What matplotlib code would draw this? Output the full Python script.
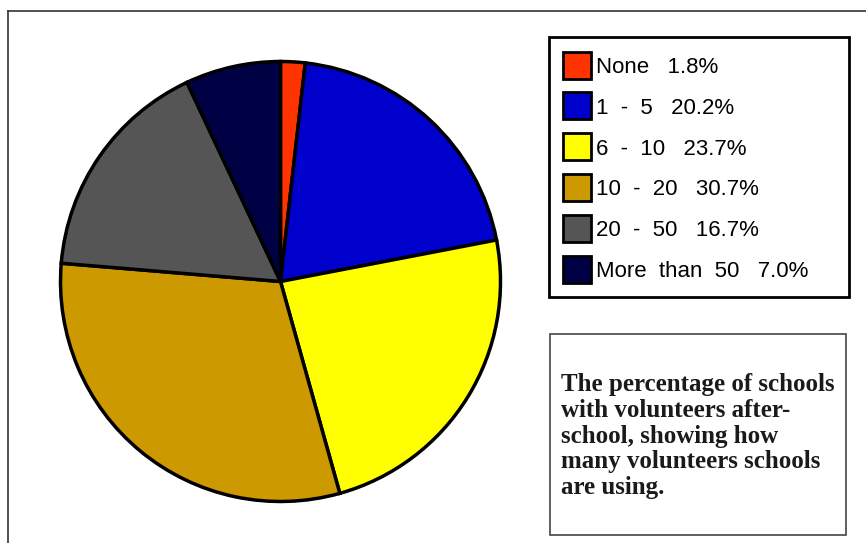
import matplotlib
matplotlib.use("Agg")
import matplotlib.pyplot as plt
from matplotlib.patches import Rectangle
from matplotlib.lines import Line2D

categories = ["None", "1  -  5", "6  -  10", "10  -  20", "20  -  50", "More  than  50"]
values = [1.8, 20.2, 23.7, 30.7, 16.7, 7.0]
colors = ["#FF3300", "#0000CC", "#FFFF00", "#CC9900", "#555555", "#000044"]
caption = ("The percentage of schools\nwith volunteers after-\nschool, showing how\n"
           "many volunteers schools\nare using.")

W, H = 866, 543
fig = plt.figure(figsize=(W / 100, H / 100), dpi=100)

def fx(px):
    return px / W

def fy(py):
    return 1 - py / H

# outer frame (left and top lines)
fig.add_artist(Line2D([fx(8), fx(8)], [fy(11), 0], color="#333333", lw=1.2))
fig.add_artist(Line2D([fx(8), 1], [fy(11), fy(11)], color="#333333", lw=1.2))

# pie
cx, cy, r = 280.5, 281.5, 220
ax = fig.add_axes([fx(cx - r), fy(cy + r), 2 * r / W, 2 * r / H])
ax.pie(values, colors=colors, startangle=90, counterclock=False,
       wedgeprops=dict(edgecolor="black", linewidth=2.5))
ax.set_xlim(-1, 1)
ax.set_ylim(-1, 1)
ax.set_aspect("auto")
ax.axis("off")

# legend box
fig.add_artist(Rectangle((fx(549), fy(297)), fx(849) - fx(549), fy(37) - fy(297),
                         transform=fig.transFigure, facecolor="white",
                         edgecolor="black", lw=2))
row0, step = 65, 40.8
for i, (cat, val, col) in enumerate(zip(categories, values, colors)):
    yc = row0 + i * step
    fig.add_artist(Rectangle((fx(563), fy(yc + 13.5)), 28 / W, 27 / H,
                             transform=fig.transFigure, facecolor=col,
                             edgecolor="black", lw=2))
    fig.text(fx(596), fy(yc + 2.5), f"{cat}   {val:.1f}%", fontsize=16,
             family="Liberation Sans", va="center", ha="left", color="black")

# caption box
fig.add_artist(Rectangle((fx(550), fy(535)), fx(846) - fx(550), fy(334) - fy(535),
                         transform=fig.transFigure, facecolor="white",
                         edgecolor="#444444", lw=1.2))
fig.text(fx(561), fy(436), caption, fontsize=18, family="Liberation Serif",
         fontweight="bold", va="center", ha="left", linespacing=1.15, color="#1a1a1a")

fig.savefig("out.png", dpi=100)
